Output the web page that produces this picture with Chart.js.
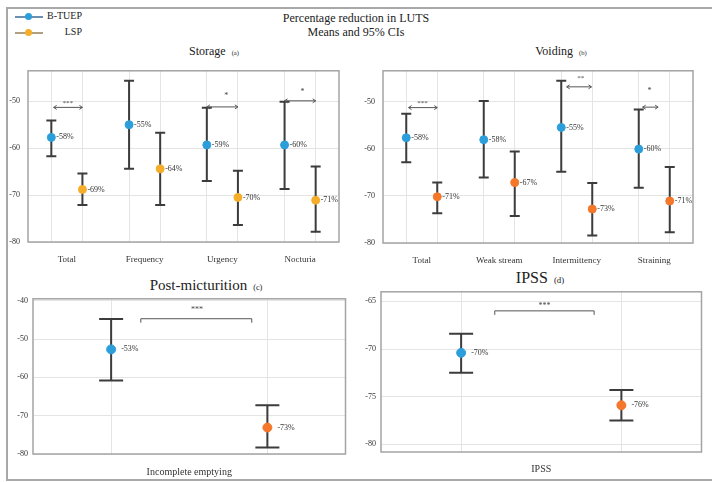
<!DOCTYPE html>
<html>
<head>
<meta charset="utf-8">
<script src="https://cdn.jsdelivr.net/npm/chart.js@4.4.0/dist/chart.umd.min.js"></script>
<style>
  body { margin: 0; background: #fff; width: 712px; height: 482px; overflow: hidden; position: relative;
         font-family: "Liberation Serif", "DejaVu Serif", serif; color: #222; }
  #frame { position: absolute; left: 6px; top: 7px; width: 706px; height: 474px; border: 2px solid #a8a8a8;
           border-right: none; box-sizing: border-box; }
  .t { position: absolute; white-space: nowrap; transform: translate(-50%, -50%); }
  .t small { font-size: 0.55em; margin-left: 6px; }
  canvas { position: absolute; }
  .lg-line { position: absolute; height: 2px; }
  .lg-dot { position: absolute; width: 7px; height: 7px; border-radius: 50%; }
</style>
</head>
<body>
<div id="frame"></div>

<div class="t" style="left:356px;top:18px;font-size:12px">Percentage reduction in LUTS</div>
<div class="t" style="left:356px;top:32px;font-size:12px">Means and 95% CIs</div>

<div class="lg-line" style="left:15px;top:16px;width:28px;background:#6a8fb0"></div>
<div class="lg-dot" style="left:25px;top:13px;background:#2c9fdb"></div>
<div style="position:absolute;left:30px;top:10px;width:52px;text-align:right;font-size:10px">B-TUEP</div>
<div class="lg-line" style="left:15px;top:32px;width:28px;background:#b0a080"></div>
<div class="lg-dot" style="left:25px;top:29px;background:#f5ad2a"></div>
<div style="position:absolute;left:30px;top:26px;width:52px;text-align:right;font-size:10px">LSP</div>

<div class="t" style="left:214px;top:51px;font-size:12px">Storage<small>(a)</small></div>
<div class="t" style="left:561px;top:51px;font-size:12px">Voiding<small>(b)</small></div>
<div class="t" style="left:206px;top:285px;font-size:15px">Post-micturition<small>(c)</small></div>
<div class="t" style="left:540px;top:278px;font-size:16px">IPSS<small>(d)</small></div>

<canvas id="cA"></canvas>
<canvas id="cB"></canvas>
<canvas id="cC"></canvas>
<canvas id="cD"></canvas>

<script>
// ---------- data ----------
const storageCats = ['Total', 'Frequency', 'Urgency', 'Nocturia'];
const storageTuepMean = [-57.7, -55.0, -59.3, -59.3];
const storageTuepLo = [-61.7, -64.4, -67.0, -68.7];
const storageTuepHi = [-54.1, -45.6, -51.4, -50.1];
const storageTuepPct = ['-58%', '-55%', '-59%', '-60%'];
const storageLspMean = [-68.8, -64.4, -70.5, -71.1];
const storageLspLo = [-72.1, -72.1, -76.4, -77.8];
const storageLspHi = [-65.4, -56.7, -64.8, -63.9];
const storageLspPct = ['-69%', '-64%', '-70%', '-71%'];
const storageTicks = [-50, -60, -70, -80];

const voidingCats = ['Total', 'Weak stream', 'Intermittency', 'Straining'];
const voidingTuepMean = [-57.7, -58.1, -55.5, -60.1];
const voidingTuepLo = [-62.9, -66.1, -64.9, -68.3];
const voidingTuepHi = [-52.6, -49.9, -45.6, -51.7];
const voidingTuepPct = ['-58%', '-58%', '-55%', '-60%'];
const voidingLspMean = [-70.2, -67.2, -72.8, -71.1];
const voidingLspLo = [-73.7, -74.3, -78.4, -77.7];
const voidingLspHi = [-67.2, -60.6, -67.3, -63.9];
const voidingLspPct = ['-71%', '-67%', '-73%', '-71%'];
const voidingTicks = [-50, -60, -70, -80];

const postCats = ['Incomplete emptying'];
const postTuepMean = [-52.7];
const postTuepLo = [-60.8];
const postTuepHi = [-44.8];
const postTuepPct = ['-53%'];
const postLspMean = [-73.1];
const postLspLo = [-78.3];
const postLspHi = [-67.3];
const postLspPct = ['-73%'];
const postTicks = [-40, -50, -60, -70, -80];

const ipssCats = ['IPSS'];
const ipssTuepMean = [-70.4];
const ipssTuepLo = [-72.5];
const ipssTuepHi = [-68.4];
const ipssTuepPct = ['-70%'];
const ipssLspMean = [-75.9];
const ipssLspLo = [-77.5];
const ipssLspHi = [-74.3];
const ipssLspPct = ['-76%'];
const ipssTicks = [-65, -70, -75, -80];

// ---------- styles ----------
const BLUE = '#2c9fdb';
const YELLOW = '#f5ad2a';
const ORANGE = '#f5772a';
const GRID = '#e4e4e4';
const BAR = '#3c3c3c';
const SERIF = '"Liberation Serif", "DejaVu Serif", serif';

// ---------- plugins ----------
const errorBars = {
  id: 'errorBars',
  beforeDatasetsDraw(chart, args, opts) {
    const { ctx, scales: { x, y } } = chart;
    ctx.save();
    ctx.strokeStyle = BAR;
    ctx.lineWidth = opts.width;
    chart.data.datasets.forEach(ds => {
      ds.data.forEach((p, i) => {
        const px = x.getPixelForValue(p.x);
        const top = y.getPixelForValue(ds.hi[i]);
        const bot = y.getPixelForValue(ds.lo[i]);
        ctx.beginPath();
        ctx.moveTo(px, top); ctx.lineTo(px, bot);
        ctx.moveTo(px - opts.cap, top); ctx.lineTo(px + opts.cap, top);
        ctx.moveTo(px - opts.cap, bot); ctx.lineTo(px + opts.cap, bot);
        ctx.stroke();
      });
    });
    ctx.restore();
  },
  afterDatasetsDraw(chart, args, opts) {
    const { ctx, scales: { x, y } } = chart;
    ctx.save();
    ctx.fillStyle = '#333';
    ctx.font = opts.labelSize + 'px ' + SERIF;
    ctx.textBaseline = 'middle';
    chart.data.datasets.forEach(ds => {
      ds.data.forEach((p, i) => {
        ctx.fillText(ds.pct[i], x.getPixelForValue(p.x) + opts.gap, y.getPixelForValue(p.y));
      });
    });
    ctx.restore();
  }
};

const plotFrame = {
  id: 'plotFrame',
  afterDraw(chart) {
    const { ctx, chartArea: a } = chart;
    ctx.save();
    ctx.strokeStyle = '#a4a4a4';
    ctx.lineWidth = 1.5;
    ctx.strokeRect(a.left, a.top, a.right - a.left, a.bottom - a.top);
    ctx.restore();
  }
};

function arrowHead(ctx, x, y, dir) {
  ctx.beginPath();
  ctx.moveTo(x + dir * 3, y - 2);
  ctx.lineTo(x, y);
  ctx.lineTo(x + dir * 3, y + 2);
  ctx.stroke();
}

const significance = {
  id: 'significance',
  afterDatasetsDraw(chart, args, opts) {
    const { ctx, scales: { x, y } } = chart;
    ctx.save();
    ctx.strokeStyle = '#555';
    ctx.fillStyle = '#444';
    ctx.lineWidth = 1;
    ctx.textAlign = 'center';
    ctx.textBaseline = 'middle';
    (opts.items || []).forEach(it => {
      const x1 = x.getPixelForValue(it.x1), x2 = x.getPixelForValue(it.x2);
      const py = y.getPixelForValue(it.y);
      ctx.beginPath();
      ctx.moveTo(x1, py); ctx.lineTo(x2, py);
      if (it.bracket) {
        ctx.moveTo(x1, py); ctx.lineTo(x1, py + 4);
        ctx.moveTo(x2, py); ctx.lineTo(x2, py + 4);
      }
      ctx.stroke();
      if (!it.bracket) { arrowHead(ctx, x1, py, 1); arrowHead(ctx, x2, py, -1); }
      ctx.font = it.size + 'px ' + SERIF;
      ctx.fillText(it.text, x.getPixelForValue(it.tx), y.getPixelForValue(it.ty));
    });
    ctx.restore();
  }
};

// ---------- panel builder ----------
// each category i sits at centre(i); B-TUEP left of it, LSP right of it
function makePanel(p) {
  const canvas = document.getElementById(p.id);
  const left = p.area[0] - p.yAxisW;
  const top = p.area[1] - 6;
  canvas.width = p.area[2] - left + 4;
  canvas.height = p.area[3] - top + p.xAxisH;
  canvas.style.left = left + 'px';
  canvas.style.top = top + 'px';

  const centre = i => p.c0 + i;
  const tuepX = p.cats.map((c, i) => centre(i) - p.offset);
  const lspX = p.cats.map((c, i) => centre(i) + p.offset);
  const xTicks = [];
  p.cats.forEach((c, i) => { xTicks.push(tuepX[i], centre(i), lspX[i]); });
  const catAt = v => {
    const i = p.cats.findIndex((c, k) => Math.abs(centre(k) - v) < 1e-6);
    return i >= 0 ? p.cats[i] : null;
  };

  return new Chart(canvas, {
    type: 'scatter',
    data: {
      datasets: [
        { label: 'B-TUEP', data: tuepX.map((x, i) => ({ x, y: p.tuep[i] })),
          lo: p.tuepLo, hi: p.tuepHi, pct: p.tuepPct,
          backgroundColor: BLUE, borderColor: BLUE, pointRadius: p.r, pointHoverRadius: p.r },
        { label: 'LSP', data: lspX.map((x, i) => ({ x, y: p.lsp[i] })),
          lo: p.lspLo, hi: p.lspHi, pct: p.lspPct,
          backgroundColor: p.lspColor, borderColor: p.lspColor, pointRadius: p.r, pointHoverRadius: p.r }
      ]
    },
    options: {
      responsive: false,
      animation: false,
      devicePixelRatio: 1,
      layout: { padding: { top: 6, right: 4, left: 0, bottom: 0 } },
      plugins: {
        legend: { display: false },
        tooltip: { enabled: false },
        errorBars: { width: 2, cap: p.cap, labelSize: p.labelSize, gap: p.gap },
        significance: { items: p.sig }
      },
      scales: {
        x: {
          type: 'linear', min: p.xMin, max: p.xMax,
          afterBuildTicks: s => { s.ticks = xTicks.map(v => ({ value: v })); },
          afterFit: s => { s.height = p.xAxisH; },
          ticks: { autoSkip: false, maxRotation: 0, padding: p.xPad, color: '#333',
                   font: { family: SERIF, size: p.catSize },
                   callback: v => catAt(v) || '' },
          grid: { drawTicks: false, color: c => (c.tick && catAt(c.tick.value) !== null) ? 'rgba(0,0,0,0)' : GRID },
          border: { display: false }
        },
        y: {
          type: 'linear', min: p.yMin, max: p.yMax,
          afterBuildTicks: s => { s.ticks = p.yTicks.map(v => ({ value: v })); },
          afterFit: s => { s.width = p.yAxisW; },
          ticks: { padding: p.yPad, color: '#333', font: { family: SERIF, size: 8 },
                   callback: v => String(v) },
          grid: { drawTicks: false, color: GRID },
          border: { display: false }
        }
      }
    },
    plugins: [plotFrame, errorBars, significance]
  });
}

makePanel({
  id: 'cA', area: [28, 64, 340, 242], yAxisW: 28, xAxisH: 28, xPad: 12, yPad: 8,
  cats: storageCats, c0: 0, offset: 0.2, xMin: -0.5, xMax: 3.5,
  yMin: -80, yMax: -43.5, yTicks: storageTicks,
  tuep: storageTuepMean, tuepLo: storageTuepLo, tuepHi: storageTuepHi, tuepPct: storageTuepPct,
  lsp: storageLspMean, lspLo: storageLspLo, lspHi: storageLspHi, lspPct: storageLspPct,
  lspColor: YELLOW, r: 4, cap: 5, labelSize: 8, gap: 5, catSize: 9,
  sig: [
    { x1: -0.17, x2: 0.2, y: -51.3, tx: 0.01, ty: -50.3, text: '***', size: 7 },
    { x1: 1.8, x2: 2.2, y: -51.2, tx: 2.05, ty: -48.8, text: '*', size: 8 },
    { x1: 2.8, x2: 3.2, y: -49.9, tx: 3.03, ty: -48.1, text: '*', size: 8 }
  ]
});

makePanel({
  id: 'cB', area: [383, 64, 694, 243], yAxisW: 30, xAxisH: 28, xPad: 12, yPad: 8,
  cats: voidingCats, c0: 0, offset: 0.2, xMin: -0.5, xMax: 3.5,
  yMin: -80, yMax: -43.5, yTicks: voidingTicks,
  tuep: voidingTuepMean, tuepLo: voidingTuepLo, tuepHi: voidingTuepHi, tuepPct: voidingTuepPct,
  lsp: voidingLspMean, lspLo: voidingLspLo, lspHi: voidingLspHi, lspPct: voidingLspPct,
  lspColor: ORANGE, r: 4, cap: 5, labelSize: 8, gap: 5, catSize: 9,
  sig: [
    { x1: -0.17, x2: 0.2, y: -51.3, tx: 0.01, ty: -50.3, text: '***', size: 7 },
    { x1: 1.87, x2: 2.19, y: -46.9, tx: 2.05, ty: -45.0, text: '**', size: 7 },
    { x1: 2.85, x2: 3.05, y: -51.2, tx: 2.94, ty: -47.8, text: '*', size: 8 }
  ]
});

makePanel({
  id: 'cC', area: [33, 295, 347, 454], yAxisW: 33, xAxisH: 26, xPad: 12, yPad: 5,
  cats: postCats, c0: 0.5, offset: 0.5, xMin: -0.5, xMax: 1.5,
  yMin: -80, yMax: -39.5, yTicks: postTicks,
  tuep: postTuepMean, tuepLo: postTuepLo, tuepHi: postTuepHi, tuepPct: postTuepPct,
  lsp: postLspMean, lspLo: postLspLo, lspHi: postLspHi, lspPct: postLspPct,
  lspColor: ORANGE, r: 4.5, cap: 12, labelSize: 8, gap: 10, catSize: 10,
  sig: [
    { x1: 0.19, x2: 0.9, y: -44.7, tx: 0.55, ty: -42.4, text: '***', size: 8, bracket: true }
  ]
});

makePanel({
  id: 'cD', area: [381, 288, 703, 452], yAxisW: 28, xAxisH: 26, xPad: 11, yPad: 5,
  cats: ipssCats, c0: 0.5, offset: 0.5, xMin: -0.5, xMax: 1.5,
  yMin: -80.8, yMax: -64, yTicks: ipssTicks,
  tuep: ipssTuepMean, tuepLo: ipssTuepLo, tuepHi: ipssTuepHi, tuepPct: ipssTuepPct,
  lsp: ipssLspMean, lspLo: ipssLspLo, lspHi: ipssLspHi, lspPct: ipssLspPct,
  lspColor: ORANGE, r: 4.5, cap: 12, labelSize: 8, gap: 10, catSize: 10,
  sig: [
    { x1: 0.21, x2: 0.83, y: -66.0, tx: 0.52, ty: -65.5, text: '***', size: 8, bracket: true }
  ]
});
</script>
</body>
</html>
